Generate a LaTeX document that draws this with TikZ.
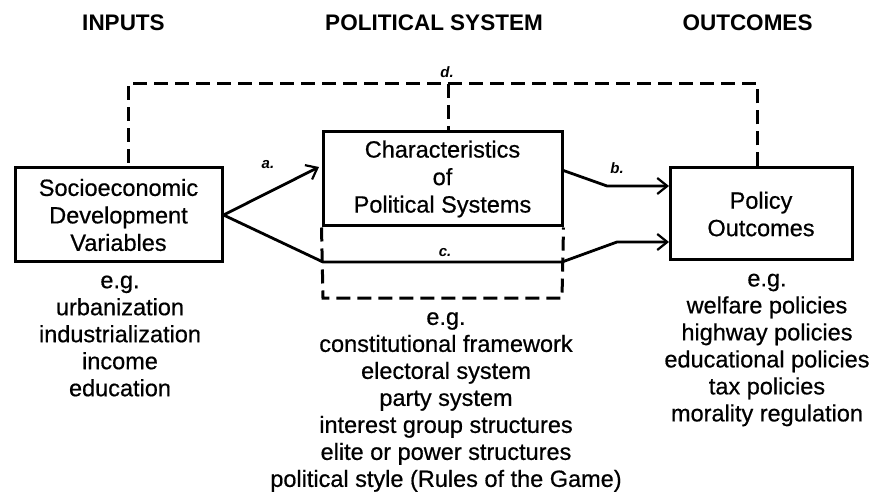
\documentclass[tikz,border=0pt]{standalone}
\usepackage{fontspec}
\setmainfont{Liberation Sans}
\newfontfamily\semib[FakeBold=0.6]{Liberation Sans}
\usetikzlibrary{arrows.meta,calc}
\tikzset{
  box/.style={draw, line width=3pt, align=center, inner sep=0pt,
              font=\semib\fontsize{23.5}{27.5}\selectfont},
  head/.style={font=\fontsize{22.5}{26}\selectfont\bfseries},
  list/.style={align=center, inner sep=0pt, font=\semib\fontsize{23.5}{27}\selectfont},
  lab/.style={font=\fontsize{15}{17}\selectfont\bfseries\itshape, inner sep=0pt},
  conn/.style={line width=2.8pt, line join=round},
  fb/.style={line width=3pt, dash pattern=on 14pt off 7pt},
  barb/.style={-{Straight Barb[length=10pt,width=16pt,line width=2.2pt]}}
}
\begin{document}
\begin{tikzpicture}[x=1pt,y=-1pt]
\useasboundingbox (0,0) rectangle (873,497);
% headings
\node[head] (hin)  at (123.5,22.5) {INPUTS};
\node[head] (hpol) at (434,22.5) {POLITICAL SYSTEM};
\node[head] (hout) at (747.5,22.5) {OUTCOMES};
% boxes
\node[box, minimum width=207pt, minimum height=94pt] (soc) at (118.5,215)
  {Socioeconomic\\Development\\Variables};
\node[box, minimum width=239pt, minimum height=94pt] (mid) at (442.5,179)
  {Characteristics\\of\\Political Systems};
\node[box, minimum width=182pt, minimum height=92pt] (pol) at (761,214)
  {Policy\\Outcomes};
% lists
\node[list] (lin) at (120,336)
  {e.g.\\urbanization\\industrialization\\income\\education};
\node[list] (lmid) at (446,402)
  {e.g.\\constitutional framework\\electoral system\\party system\\interest group structures\\elite or power structures\\political style (Rules of the Game)};
\node[list] (lout) at (767,350)
  {e.g.\\welfare policies\\highway policies\\educational policies\\tax policies\\morality regulation};
% coordinates
\coordinate (aTip) at (319,167);
\coordinate (cL) at (323,262);
\coordinate (cR) at (562,262);
\coordinate (dBL) at (323,298);
\coordinate (dBR) at (562,298);
\coordinate (bS) at (562,170);
\coordinate (bK) at (607,186);
\coordinate (bT) at (669,186);
\coordinate (eK) at (617,242);
\coordinate (eT) at (669,242);
\coordinate (fL) at (128,84);
\coordinate (fR) at (757,84);
\coordinate (fM) at (448,84);
% connectors
\draw[conn, barb] (soc.east) -- (aTip);
\draw[conn] (soc.east) -- (cL) -- (cR);
\draw[conn, barb] (bS) -- (bK) -- (bT);
\draw[conn, barb] (cR) -- (eK) -- (eT);
% dashed lower box
\draw[fb] (mid.south west) -- (dBL) -- (dBR) -- (mid.south east);
% feedback
\draw[fb] (pol.north -| fR) -- (fR) -- (fL) -- (soc.north -| fL);
\draw[fb] (fM) -- (mid.north -| fM);
% labels
\node[lab] (la) at (268,165) {a.};
\node[lab] (lb) at (617,168) {b.};
\node[lab] (lc) at (445,253) {c.};
\node[lab] (ld) at (447,72) {d.};
\end{tikzpicture}
\end{document}
